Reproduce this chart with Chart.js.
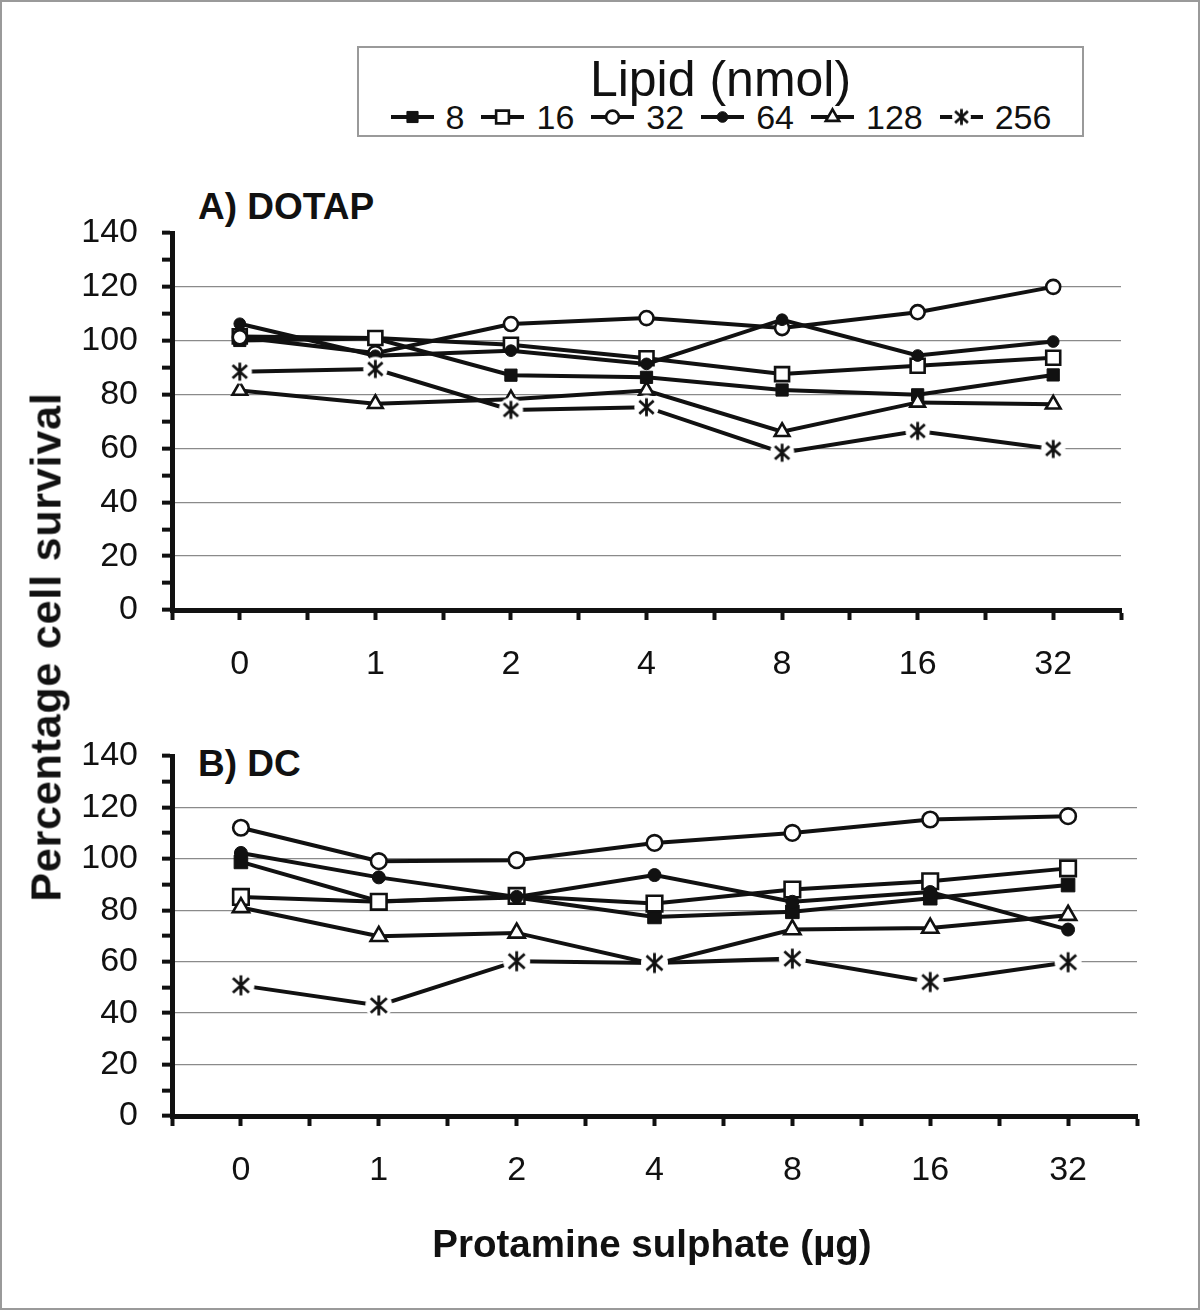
<!DOCTYPE html>
<html><head><meta charset="utf-8">
<script src="https://cdn.jsdelivr.net/npm/chart.js@4.4.1/dist/chart.umd.min.js"></script>
<style>
html,body{margin:0;padding:0;background:#fff;}
body{width:1200px;height:1310px;position:relative;overflow:hidden;font-family:"Liberation Sans",Arial,sans-serif;color:#111;}
#frame{position:absolute;left:0;top:0;width:1196px;height:1306px;border:2px solid #9a9a9a;}
.chart{position:absolute;left:0;}
#cA{top:180px;}
#cB{top:700px;}
.ptitle{position:absolute;left:198px;font-weight:bold;font-size:37px;line-height:1;white-space:nowrap;}
#legend{position:absolute;left:357px;top:46px;width:723px;height:87px;border:2px solid #9a9a9a;background:#fff;}
#ltitle{position:absolute;left:0;right:0;top:6px;text-align:center;font-size:50px;line-height:1;}
#lrow{position:absolute;left:0;right:0;top:52px;display:flex;justify-content:center;align-items:center;font-size:34px;line-height:1;}
.item{display:flex;align-items:center;margin:0 8px;}
.item canvas{margin-right:11px;}
#ytitle{position:absolute;left:46px;top:647px;transform:translate(-50%,-50%) rotate(-90deg);font-weight:bold;font-size:43px;letter-spacing:0.8px;line-height:1;white-space:nowrap;}
#xtitle{position:absolute;left:652px;top:1225px;transform:translateX(-50%);font-weight:bold;font-size:38.5px;line-height:1;white-space:nowrap;}
</style>
</head>
<body>
<div id="frame"></div>
<div id="legend"><div id="ltitle">Lipid (nmol)</div><div id="lrow"></div></div>
<div class="ptitle" style="top:188px;">A) DOTAP</div>
<div class="ptitle" style="top:745px;">B) DC</div>
<canvas id="cA" class="chart" width="1200" height="540"></canvas>
<canvas id="cB" class="chart" width="1200" height="526"></canvas>
<div id="ytitle">Percentage cell survival</div>
<div id="xtitle">Protamine sulphate (µg)</div>
<script>
// ---- data ----
const categories = ['0','1','2','4','8','16','32'];
const seriesNames = ['8','16','32','64','128','256'];

const dotap8   = [100.1, 100.8, 87.2, 86.4, 81.7, 79.9, 87.3];
const dotap16  = [101.6, 101.0, 98.5, 93.5, 87.6, 90.7, 93.7];
const dotap32  = [101.3, 95.4, 106.2, 108.4, 104.7, 110.6, 120.0];
const dotap64  = [106.3, 94.4, 96.3, 91.4, 107.8, 94.5, 99.7];
const dotap128 = [81.5, 76.6, 78.3, 81.5, 66.2, 77.1, 76.4];
const dotap256 = [88.5, 89.5, 74.3, 75.3, 58.4, 66.5, 59.8];

const dc8   = [98.8, 83.5, 85.0, 77.4, 79.4, 84.7, 89.8];
const dc16  = [85.2, 83.3, 85.6, 82.6, 88.1, 91.3, 96.3];
const dc32  = [112.1, 99.1, 99.5, 106.2, 110.1, 115.3, 116.6];
const dc64  = [102.3, 92.8, 85.2, 93.7, 83.3, 87.1, 72.5];
const dc128 = [81.1, 69.9, 71.2, 59.0, 72.5, 73.1, 78.1];
const dc256 = [50.8, 43.0, 60.2, 59.5, 61.2, 52.1, 59.8];

const yTicks = {min: 0, max: 140, step: 10, labelStep: 20};

// ---- styles ----
const FONT = '"Liberation Sans", Arial, sans-serif';
const INK = '#111';

function makeStar(size, disc){
  const d = Math.ceil(disc*2+2);
  const c = document.createElement('canvas');
  c.width = d; c.height = d;
  const g = c.getContext('2d');
  const m = d/2;
  g.fillStyle = '#fff';
  g.beginPath(); g.arc(m, m, disc, 0, Math.PI*2); g.fill();
  g.strokeStyle = INK; g.lineWidth = 2.8;
  const a = size/2;
  g.beginPath();
  g.moveTo(m, m-a); g.lineTo(m, m+a);
  g.moveTo(m-0.8*a, m-0.72*a); g.lineTo(m+0.8*a, m+0.72*a);
  g.moveTo(m+0.8*a, m-0.72*a); g.lineTo(m-0.8*a, m+0.72*a);
  g.stroke();
  return c;
}

function markerStyles(s){
  return [
    {style:'rect', r:9.6*s, bg:INK, bw:1},
    {style:'rect', r:11*s, bg:'#fff', bw:2.6},
    {style:'circle', r:7.8*s, bg:'#fff', bw:2.6},
    {style:'circle', r:6.5*s, bg:INK, bw:1},
    {style:'triangle', r:9.4*s, bg:'#fff', bw:2.6},
    {style:makeStar(20*s, 13.5*s), r:9*s, bg:'#fff', bw:0}
  ];
}
const drawOrder = [5, 4, 2, 1, 3, 0];

function makeChart(id, arrays, opts){
  const ms = markerStyles(opts.scale);
  const datasets = arrays.map((arr, i) => ({
    label: seriesNames[i],
    data: arr.map((v, j) => ({x: j, y: v})),
    borderColor: INK, borderWidth: 4, tension: 0, fill: false,
    pointStyle: ms[i].style, pointRadius: ms[i].r,
    pointBackgroundColor: ms[i].bg, pointBorderColor: INK, pointBorderWidth: ms[i].bw,
    order: drawOrder[i], clip: false
  }));
  return new Chart(document.getElementById(id), {
    type: 'line',
    data: {datasets},
    options: {
      responsive: false, animation: false, devicePixelRatio: 1,
      layout: {padding: {top: opts.top, right: opts.right, left: 0, bottom: 0}},
      plugins: {legend: {display: false}, tooltip: {enabled: false}, title: {display: false}},
      scales: {
        x: {
          type: 'linear', min: -0.5, max: categories.length - 0.5,
          afterFit: (s) => { s.height = opts.xh; },
          ticks: {
            stepSize: 0.5, autoSkip: false, maxRotation: 0, minRotation: 0, padding: 24,
            color: INK, font: {family: FONT, size: 34},
            callback: (v) => {
              const k = Math.round(v*2)/2;
              return (Number.isInteger(k) && k >= 0 && k < categories.length) ? categories[k] : '';
            }
          },
          grid: {drawOnChartArea: false, drawTicks: true, tickLength: 10, tickWidth: 4, tickColor: INK, color: INK},
          border: {display: true, color: INK, width: 5}
        },
        y: {
          min: yTicks.min, max: yTicks.max,
          afterFit: (s) => { s.width = opts.left; },
          ticks: {
            stepSize: yTicks.step, autoSkip: false, padding: 24,
            color: INK, font: {family: FONT, size: 34},
            callback: (v) => (v % yTicks.labelStep === 0 ? String(v) : '')
          },
          grid: {
            color: (c) => {
              const v = c.tick ? c.tick.value : 0;
              return (v % yTicks.labelStep === 0 && v > yTicks.min && v < yTicks.max) ? '#8a8a8a' : 'rgba(0,0,0,0)';
            },
            lineWidth: 1.3, drawTicks: true, tickLength: 10, tickWidth: 4, tickColor: INK
          },
          border: {display: true, color: INK, width: 5}
        }
      }
    }
  });
}

makeChart('cA', [dotap8, dotap16, dotap32, dotap64, dotap128, dotap256], {scale: 0.9, top: 53, right: 79, left: 172, xh: 110});
makeChart('cB', [dc8, dc16, dc32, dc64, dc128, dc256], {scale: 1.0, top: 56, right: 63, left: 172, xh: 110});

// ---- legend ----
(function(){
  const row = document.getElementById('lrow');
  const ms = markerStyles(0.82);
  seriesNames.forEach((name, i) => {
    const item = document.createElement('div'); item.className = 'item';
    const c = document.createElement('canvas'); c.width = 45; c.height = 30;
    const g = c.getContext('2d');
    g.strokeStyle = INK; g.lineWidth = 4;
    g.beginPath(); g.moveTo(1, 15); g.lineTo(44, 15); g.stroke();
    const m = ms[i];
    g.fillStyle = m.bg; g.lineWidth = m.bw;
    if (m.style === 'rect') {
      const h = m.r * Math.SQRT1_2;
      g.beginPath(); g.rect(22.5-h, 15-h, 2*h, 2*h); g.fill(); g.stroke();
    } else if (m.style === 'circle') {
      g.beginPath(); g.arc(22.5, 15, m.r, 0, Math.PI*2); g.fill(); g.stroke();
    } else if (m.style === 'triangle') {
      g.beginPath();
      for (let k = 0; k < 3; k++) {
        const a = k * 2*Math.PI/3;
        const px = 22.5 + Math.sin(a)*m.r, py = 15 - Math.cos(a)*m.r;
        if (k === 0) g.moveTo(px, py); else g.lineTo(px, py);
      }
      g.closePath(); g.fill(); g.stroke();
    } else {
      const img = makeStar(16, 9.5);
      g.drawImage(img, 22.5 - img.width/2, 15 - img.height/2);
    }
    const t = document.createElement('span'); t.textContent = name;
    item.appendChild(c); item.appendChild(t);
    row.appendChild(item);
  });
})();
</script>
</body></html>
